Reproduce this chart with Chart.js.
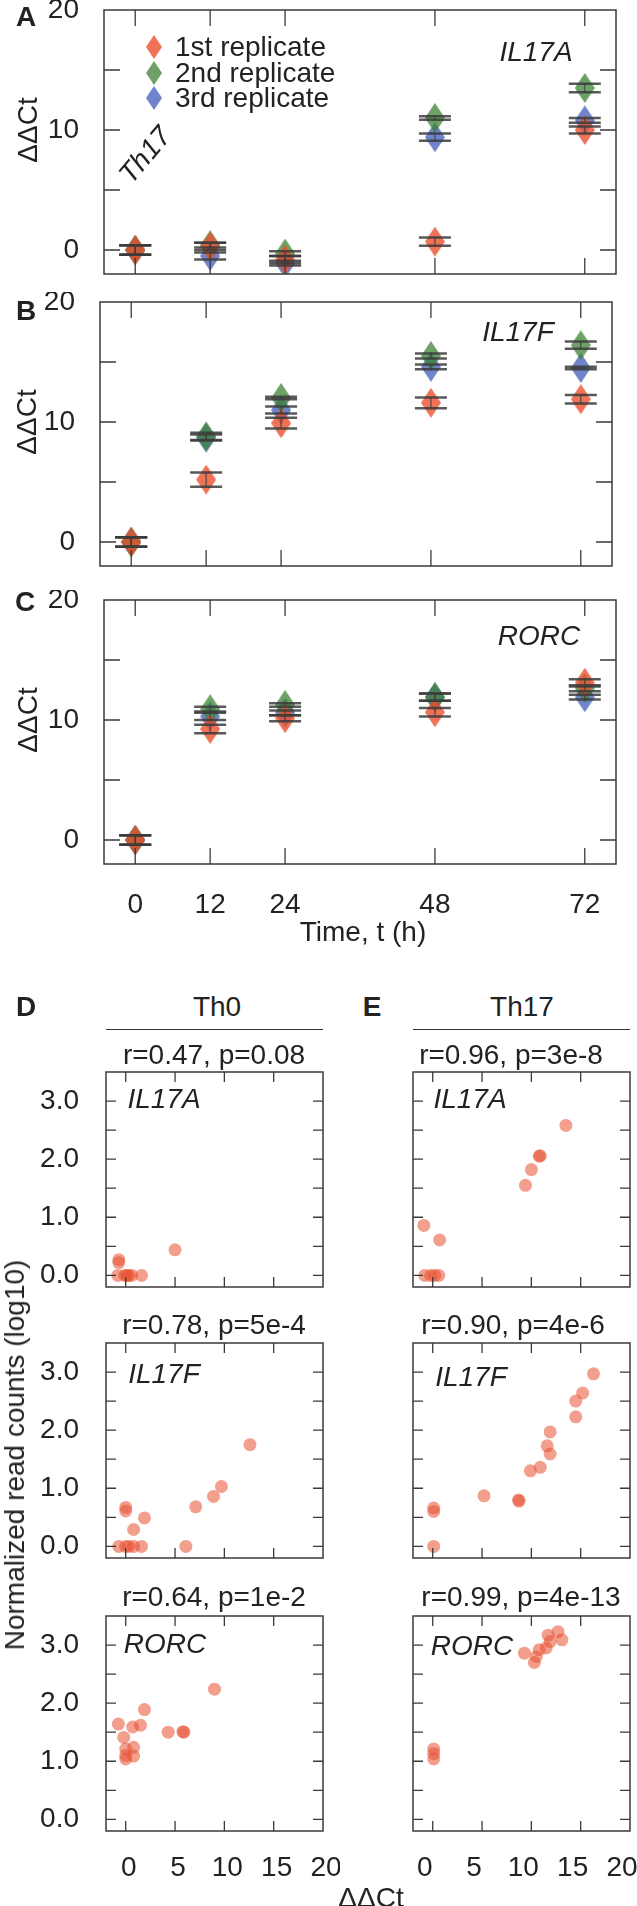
<!DOCTYPE html>
<html lang="en">
<head>
<meta charset="UTF-8">
<title>ddCt time course and read count correlation</title>
<script src="https://cdn.jsdelivr.net/npm/chart.js@4.4.1/dist/chart.umd.min.js"></script>
<style>
    body { margin: 0; background: #fff; }
    #fig { position: relative; width: 637px; height: 1906px; overflow: hidden;
           font-family: 'Liberation Sans', Arial, sans-serif; color: #222; }
    canvas { position: absolute; }
    .t { position: absolute; transform: translate(-50%, -50%); font-size: 28px; line-height: 1; white-space: nowrap; }
    .l { transform: translate(0, -50%); }
    .b { font-weight: bold; }
    .i { font-style: italic; }
    .rot { transform: translate(-50%, -50%) rotate(-90deg); }
    .hr { position: absolute; height: 0; border-top: 1.5px solid #333; }
</style>
</head>
<body>
<div id="fig">
    <canvas id="cA" width="637" height="290" style="left:0;top:0"></canvas>
    <canvas id="cB" width="637" height="290" style="left:0;top:292px"></canvas>
    <canvas id="cC" width="637" height="340" style="left:0;top:590px"></canvas>
    <canvas id="d1" width="340" height="235" style="left:0;top:1062px"></canvas>
    <canvas id="e1" width="297" height="235" style="left:340px;top:1062px"></canvas>
    <canvas id="d2" width="340" height="235" style="left:0;top:1333px"></canvas>
    <canvas id="e2" width="297" height="235" style="left:340px;top:1333px"></canvas>
    <canvas id="d3" width="340" height="300" style="left:0;top:1606px"></canvas>
    <canvas id="e3" width="297" height="300" style="left:340px;top:1606px"></canvas>

    <div class="t b" style="left:26px;top:17px">A</div>
    <div class="t b" style="left:26px;top:311px">B</div>
    <div class="t b" style="left:25px;top:602px">C</div>
    <div class="t b" style="left:26px;top:1007px">D</div>
    <div class="t b" style="left:372px;top:1007px">E</div>

    <div class="t rot" style="left:28px;top:130px">ΔΔCt</div>
    <div class="t rot" style="left:27px;top:422px">ΔΔCt</div>
    <div class="t rot" style="left:28px;top:720px">ΔΔCt</div>
    <div class="t" style="left:363px;top:932px">Time, t (h)</div>

    <div class="t i" style="left:536px;top:52px">IL17A</div>
    <div class="t i" style="left:518px;top:332px">IL17F</div>
    <div class="t i" style="left:539px;top:636px">RORC</div>
    <div class="t i" style="left:145px;top:155px;transform:translate(-50%,-50%) rotate(-50deg)">Th17</div>

    <div id="legend"></div>

    <div class="t" style="left:217px;top:1007px">Th0</div>
    <div class="t" style="left:522px;top:1007px">Th17</div>
    <div class="hr" style="left:106px;top:1029px;width:217px"></div>
    <div class="hr" style="left:413px;top:1029px;width:217px"></div>

    <div class="t" style="left:214px;top:1055px">r=0.47, p=0.08</div>
    <div class="t" style="left:511px;top:1055px">r=0.96, p=3e-8</div>
    <div class="t" style="left:214px;top:1325px">r=0.78, p=5e-4</div>
    <div class="t" style="left:513px;top:1325px">r=0.90, p=4e-6</div>
    <div class="t" style="left:214px;top:1597px">r=0.64, p=1e-2</div>
    <div class="t" style="left:521px;top:1597px">r=0.99, p=4e-13</div>

    <div class="t i" style="left:164px;top:1099px">IL17A</div>
    <div class="t i" style="left:470px;top:1099px">IL17A</div>
    <div class="t i" style="left:164px;top:1374px">IL17F</div>
    <div class="t i" style="left:471px;top:1377px">IL17F</div>
    <div class="t i" style="left:165px;top:1644px">RORC</div>
    <div class="t i" style="left:472px;top:1646px">RORC</div>

    <div class="t rot" style="left:15px;top:1455px">Normalized read counts (log10)</div>
    <div class="t" style="left:371px;top:1898px">ΔΔCt</div>
</div>

<script>
    // time course (panels A-C), one array per replicate
    const times = [0, 12, 24, 48, 72];
    const ddctTicks = [0, 5, 10, 15, 20];
    const replicateNames = ['1st replicate', '2nd replicate', '3rd replicate'];

    const il17aRep1 = [0, 0.3, -0.8, 0.7, 10.0];
    const il17aRep2 = [0, 0.4, -0.3, 11.0, 13.5];
    const il17aRep3 = [0, -0.5, -1.1, 9.4, 10.8];
    const il17aErr1 = [0.4, 0.3, 0.3, 0.35, 0.3];
    const il17aErr2 = [0.4, 0.2, 0.2, 0.15, 0.35];
    const il17aErr3 = [0.4, 0.3, 0.2, 0.3, 0.2];

    const il17fRep1 = [0, 5.2, 9.9, 11.6, 11.9];
    const il17fRep2 = [0, 8.8, 12.0, 15.5, 16.4];
    const il17fRep3 = [0, 8.7, 11.0, 14.6, 14.5];
    const il17fErr1 = [0.4, 0.6, 0.45, 0.45, 0.35];
    const il17fErr2 = [0.4, 0.3, 0.1, 0.2, 0.3];
    const il17fErr3 = [0.4, 0.25, 0.3, 0.2, 0.1];

    const rorcRep1 = [0, 9.25, 10.15, 10.65, 13.1];
    const rorcRep2 = [0, 10.9, 11.25, 11.9, 12.65];
    const rorcRep3 = [0, 10.3, 10.6, 11.9, 11.9];
    const rorcErr1 = [0.4, 0.35, 0.25, 0.35, 0.3];
    const rorcErr2 = [0.4, 0.2, 0.15, 0.3, 0.25];
    const rorcErr3 = [0.4, 0.3, 0.2, 0.3, 0.2];

    // correlation panels: ddCt (x) vs log10 read counts (y)
    const corrXTicks = [0, 5, 10, 15, 20];
    const corrYTicks = [0, 0.5, 1, 1.5, 2, 2.5, 3];

    const th0Il17aX = [-0.7, -0.7, -0.8, -0.1, 0.1, 0.3, 0.6, 1.6, 5.0];
    const th0Il17aY = [0.27, 0.22, 0.0, 0.0, 0.0, 0.0, 0.0, 0.0, 0.44];
    const th0Il17fX = [12.6, 9.7, 8.9, 7.1, 0.0, 0.0, 1.9, 0.8, -0.7, 0.0, 0.3, 0.8, 1.6, 6.1];
    const th0Il17fY = [1.75, 1.03, 0.86, 0.68, 0.67, 0.61, 0.49, 0.29, 0.0, 0.0, 0.0, 0.0, 0.0, 0.0];
    const th0RorcX = [9.0, 1.9, -0.75, 1.5, 0.7, 4.3, 5.9, 5.8, -0.2, 0.0, 0.8, 0.0, 0.8, 0.0];
    const th0RorcY = [2.24, 1.89, 1.64, 1.62, 1.59, 1.50, 1.50, 1.51, 1.41, 1.21, 1.24, 1.10, 1.09, 1.04];

    const th17Il17aX = [-0.9, 0.7, -0.8, -0.2, 0.2, 0.6, 9.4, 10.0, 10.8, 10.9, 13.5];
    const th17Il17aY = [0.86, 0.61, 0.0, 0.0, 0.0, 0.0, 1.55, 1.82, 2.05, 2.06, 2.58];
    const th17Il17fX = [16.3, 15.2, 14.5, 14.5, 11.9, 11.6, 11.9, 10.9, 9.9, 5.2, 8.7, 8.75, 0.1, 0.1, 0.1];
    const th17Il17fY = [2.97, 2.64, 2.50, 2.23, 1.97, 1.73, 1.59, 1.36, 1.30, 0.87, 0.80, 0.78, 0.66, 0.60, 0.0];
    const th17RorcX = [0.1, 0.1, 0.1, 9.3, 10.3, 10.5, 10.8, 11.5, 11.7, 11.9, 12.7, 13.1];
    const th17RorcY = [1.21, 1.13, 1.04, 2.86, 2.70, 2.80, 2.92, 2.95, 3.17, 3.06, 3.23, 3.09];

    const repColors = ['rgba(235,80,45,0.8)', 'rgba(60,130,50,0.75)', 'rgba(50,80,180,0.7)'];
    const dotColor = 'rgba(232,80,50,0.55)';

    Chart.defaults.font.family = "'Liberation Sans', Arial, sans-serif";
    Chart.defaults.font.size = 28;
    Chart.defaults.color = '#222';
    Chart.defaults.animation = false;

    function diamond(color, w, h) {
        const c = document.createElement('canvas');
        c.width = w;
        c.height = h;
        const g = c.getContext('2d');
        g.fillStyle = color;
        g.beginPath();
        g.moveTo(w / 2, 0);
        g.lineTo(w, h / 2);
        g.lineTo(w / 2, h);
        g.lineTo(0, h / 2);
        g.closePath();
        g.fill();
        return c;
    }

    // fixed axis size, and no extra room for labels that hang over the ends
    function fixSize(prop, size) {
        return s => {
            s[prop] = size;
            s.paddingTop = s.paddingBottom = s.paddingLeft = s.paddingRight = 0;
        };
    }

    function setTicks(values) {
        return s => { s.ticks = values.map(v => ({ value: v })); };
    }

    // box round the plot area with inward ticks on all four sides
    const frame = {
        id: 'frame',
        afterDraw(chart, args, o) {
            const { ctx, chartArea: a, scales: { x, y } } = chart;
            ctx.save();
            ctx.strokeStyle = '#3a3a3a';
            ctx.lineWidth = 1.5;
            ctx.strokeRect(a.left, a.top, a.width, a.height);
            ctx.lineWidth = 1.3;
            ctx.beginPath();
            x.ticks.forEach(t => {
                const p = x.getPixelForValue(t.value);
                if (p < a.left + 2 || p > a.right - 2) return;
                ctx.moveTo(p, a.top); ctx.lineTo(p, a.top + o.len);
                ctx.moveTo(p, a.bottom); ctx.lineTo(p, a.bottom - o.len);
            });
            y.ticks.forEach(t => {
                const p = y.getPixelForValue(t.value);
                if (p < a.top + 2 || p > a.bottom - 2) return;
                ctx.moveTo(a.left, p); ctx.lineTo(a.left + o.len, p);
                ctx.moveTo(a.right, p); ctx.lineTo(a.right - o.len, p);
            });
            ctx.stroke();
            ctx.restore();
        }
    };

    const errorBars = {
        id: 'errorBars',
        afterDatasetsDraw(chart) {
            const { ctx, scales: { x, y } } = chart;
            ctx.save();
            ctx.strokeStyle = 'rgba(60,60,60,0.85)';
            chart.data.datasets.forEach(ds => {
                ds.data.forEach((p, i) => {
                    const e = ds.errors[i];
                    const px = x.getPixelForValue(p.x);
                    const hi = y.getPixelForValue(p.y + e);
                    const lo = y.getPixelForValue(p.y - e);
                    ctx.lineWidth = 1.2;
                    ctx.beginPath();
                    ctx.moveTo(px, hi); ctx.lineTo(px, lo);
                    ctx.stroke();
                    ctx.lineWidth = 2.5;
                    ctx.beginPath();
                    ctx.moveTo(px - 16, hi); ctx.lineTo(px + 16, hi);
                    ctx.moveTo(px - 16, lo); ctx.lineTo(px + 16, lo);
                    ctx.stroke();
                });
            });
            ctx.restore();
        }
    };

    const markers = repColors.map(c => diamond(c, 20, 30));

    function timeChart(id, reps, errs, o) {
        new Chart(document.getElementById(id), {
            type: 'scatter',
            data: {
                datasets: reps.map((r, k) => ({
                    label: replicateNames[k],
                    data: times.map((t, i) => ({ x: t, y: r[i] })),
                    errors: errs[k],
                    pointStyle: markers[k]
                }))
            },
            options: {
                responsive: false,
                events: [],
                layout: { padding: { top: 10, right: o.right, bottom: o.bottom, left: 0 } },
                plugins: { legend: { display: false }, tooltip: { enabled: false }, frame: { len: 16 } },
                scales: {
                    x: {
                        type: 'linear', min: -5, max: 77, bounds: 'data',
                        grid: { display: false }, border: { display: false },
                        afterBuildTicks: setTicks(times),
                        ticks: { display: o.xLabels, padding: 16, autoSkip: false, maxRotation: 0 },
                        afterFit: fixSize('height', o.xh)
                    },
                    y: {
                        min: -2, max: 20, bounds: 'data',
                        grid: { display: false }, border: { display: false },
                        afterBuildTicks: setTicks(ddctTicks),
                        ticks: { padding: 17, autoSkip: false, callback: v => v % 10 === 0 ? v : '' },
                        afterFit: fixSize('width', o.yw)
                    }
                }
            },
            plugins: [errorBars, frame]
        });
    }

    timeChart('cA', [il17aRep1, il17aRep2, il17aRep3], [il17aErr1, il17aErr2, il17aErr3],
        { yw: 104, right: 21, bottom: 16, xh: 0, xLabels: false });
    timeChart('cB', [il17fRep1, il17fRep2, il17fRep3], [il17fErr1, il17fErr2, il17fErr3],
        { yw: 100, right: 25, bottom: 16, xh: 0, xLabels: false });
    timeChart('cC', [rorcRep1, rorcRep2, rorcRep3], [rorcErr1, rorcErr2, rorcErr3],
        { yw: 104, right: 21, bottom: 0, xh: 66, xLabels: true });

    function corrChart(id, xs, ys, o) {
        new Chart(document.getElementById(id), {
            type: 'scatter',
            data: {
                datasets: [{
                    data: xs.map((x, i) => ({ x: x, y: ys[i] })),
                    backgroundColor: dotColor,
                    borderWidth: 0,
                    pointRadius: 6.5
                }]
            },
            options: {
                responsive: false,
                events: [],
                layout: { padding: { top: 10, right: o.right, bottom: o.bottom, left: 0 } },
                plugins: { legend: { display: false }, tooltip: { enabled: false }, frame: { len: 10 } },
                scales: {
                    x: {
                        type: 'linear', min: -2, max: 20, bounds: 'data',
                        grid: { display: false }, border: { display: false },
                        afterBuildTicks: setTicks(corrXTicks),
                        ticks: { display: o.xLabels, padding: 12, labelOffset: o.xOff, autoSkip: false, maxRotation: 0 },
                        afterFit: fixSize('height', o.xh)
                    },
                    y: {
                        min: -0.2, max: 3.5, bounds: 'data',
                        grid: { display: false }, border: { display: false },
                        afterBuildTicks: setTicks(corrYTicks),
                        ticks: { display: o.yLabels, padding: 19, autoSkip: false,
                                 callback: v => Number.isInteger(v) ? v.toFixed(1) : '' },
                        afterFit: fixSize('width', o.yw)
                    }
                }
            },
            plugins: [frame]
        });
    }

    const dTop = { yw: 106, right: 17, bottom: 10, xh: 0, xLabels: false, yLabels: true, xOff: 0 };
    const eTop = { yw: 73, right: 7, bottom: 10, xh: 0, xLabels: false, yLabels: false, xOff: 0 };
    corrChart('d1', th0Il17aX, th0Il17aY, dTop);
    corrChart('e1', th17Il17aX, th17Il17aY, eTop);
    corrChart('d2', th0Il17fX, th0Il17fY, dTop);
    corrChart('e2', th17Il17fX, th17Il17fY, eTop);
    corrChart('d3', th0RorcX, th0RorcY, { ...dTop, bottom: 0, xh: 75, xLabels: true, xOff: 3 });
    corrChart('e3', th17RorcX, th17RorcY, { ...eTop, bottom: 0, xh: 75, xLabels: true, xOff: -8 });

    // legend of panel A
    const legend = document.getElementById('legend');
    replicateNames.forEach((name, k) => {
        const y = 47 + k * 25.5;
        const m = diamond(repColors[k], 16, 24);
        m.style.left = (154 - 8) + 'px';
        m.style.top = (y - 12) + 'px';
        legend.appendChild(m);
        const t = document.createElement('div');
        t.className = 't l';
        t.style.left = '175px';
        t.style.top = y + 'px';
        t.textContent = name;
        legend.appendChild(t);
    });
</script>
</body>
</html>
